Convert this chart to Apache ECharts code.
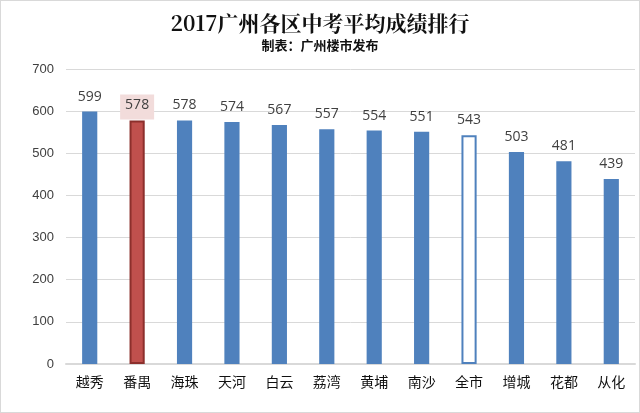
<!DOCTYPE html>
<html><head><meta charset="utf-8">
<script src="https://cdn.jsdelivr.net/npm/echarts@6/dist/echarts.min.js"></script>
<style>html,body{margin:0;padding:0;background:#fff}#c{width:640px;height:413px;box-sizing:border-box;border:1px solid #d9d9d9}</style>
</head><body><div id="c"></div>
<script>
const categories = ['越秀','番禺','海珠','天河','白云','荔湾','黄埔','南沙','全市','增城','花都','从化'];
const scores = [599,578,578,574,567,557,554,551,543,503,481,439];
const yTicks = [0,100,200,300,400,500,600,700];

const chart = echarts.init(document.getElementById('c'));
const data = scores.map((v,i)=>{
  const c = categories[i];
  if (c === '番禺') return {value:v, itemStyle:{color:'#C0504D', borderColor:'#8C2F2C', borderWidth:2},
    label:{backgroundColor:'#F2DCDB', padding:[4,5,7,5], distance:1}};
  if (c === '全市') return {value:v, itemStyle:{color:'#ffffff', borderColor:'#4F81BD', borderWidth:2}};
  return v;
});
chart.setOption({
  animation:false,
  title:{
    text:'2017广州各区中考平均成绩排行',
    subtext:'制表：广州楼市发布',
    left:'center', top:7, itemGap:5,
    textStyle:{fontFamily:'"Noto Serif CJK SC","Noto Sans CJK SC",serif', fontWeight:'bold', fontSize:21, color:'#111'},
    subtextStyle:{fontFamily:'"Noto Sans CJK SC",sans-serif', fontWeight:'bold', fontSize:13, color:'#111'}
  },
  grid:{left:65, right:4, top:68, bottom:48},
  xAxis:{type:'category', data:categories,
    axisLine:{lineStyle:{color:'#d9d9d9', width:2}}, axisTick:{show:false},
    axisLabel:{color:'#111', fontSize:14, margin:11, fontFamily:'"Noto Sans CJK SC",sans-serif'}},
  yAxis:{type:'value', min:0, max:700, interval:100,
    axisLine:{show:false}, axisTick:{show:false},
    splitLine:{lineStyle:{color:'#d9d9d9'}},
    axisLabel:{color:'#404040', fontSize:13, margin:12, fontFamily:'"Liberation Sans",Arial,sans-serif',
      formatter:v=>yTicks.includes(v)?String(v):''}},
  series:[{type:'bar', data:data, barWidth:'32%',
    itemStyle:{color:'#4F81BD'},
    label:{show:true, position:'top', distance:8, color:'#404040', fontSize:14, fontFamily:'"Open Sans","Liberation Sans",sans-serif'}}]
});
</script></body></html>
